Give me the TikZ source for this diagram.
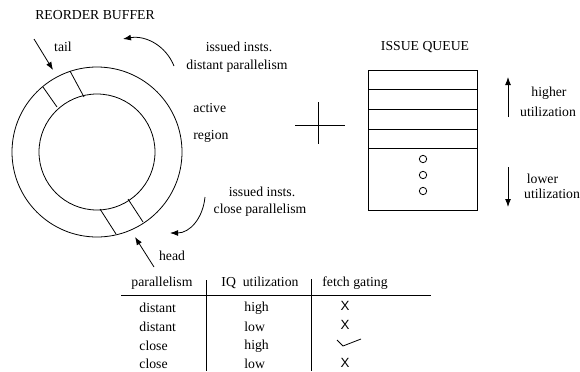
\documentclass[tikz,border=0pt]{standalone}
\usepackage{fontspec}
\setmainfont{Liberation Serif}
\newfontfamily\marksans{Liberation Sans}
\usetikzlibrary{arrows.meta}
\begin{document}
\begin{tikzpicture}[x=0.75pt,y=-0.75pt,
  line width=0.6pt,
  lbl/.style={font=\fontsize{10.3}{12}\selectfont, inner sep=0pt},
  lbll/.style={lbl, anchor=west},
  tip/.style={-{Latex[length=6pt,width=4.4pt]}},
  xmark/.style={font=\marksans\fontsize{10}{12}\selectfont, inner sep=0pt}]
\useasboundingbox (0,0) rectangle (580,371);

% ---- reorder buffer ring ----
\coordinate (c) at (97,152);
\draw (c) circle [radius=85];
\draw (c) circle [radius=58];
\node[lbl] (rob) at (95,15) {REORDER BUFFER};

% tail slot
\draw (43,87) -- (57,107);
\draw (70,71) -- (84,97);
% head slot
\draw (100,209) -- (116,234);
\draw (128,199) -- (143,222);

% tail / head pointers
\coordinate (tailfrom) at (34,39);
\coordinate (tailto) at (53,70);
\draw[tip] (tailfrom) -- (tailto);
\node[lbl] (tail) at (63,47) {tail};

\coordinate (headfrom) at (154,267);
\coordinate (headto) at (135,237);
\draw[tip] (headfrom) -- (headto);
\node[lbl] (head) at (172,256) {head};

% issue direction arrows
\coordinate (d1) at (174,66);
\coordinate (d2) at (123,39);
\draw[tip] (d1) .. controls (166,46) and (146,35) .. (d2);
\coordinate (n1) at (205,197);
\coordinate (n2) at (170,233);
\draw[tip] (n1) .. controls (203,218) and (190,233) .. (n2);

\node[lbl] (iss1) at (239,47) {issued insts.};
\node[lbl] (dist) at (237,66) {distant parallelism};
\node[lbll] (act) at (193,108) {active};
\node[lbll] (reg) at (193,136) {region};
\node[lbl] (iss2) at (262,192) {issued insts.};
\node[lbl] (clo) at (260,210) {close parallelism};

% cross
\coordinate (hl) at (295,125);
\coordinate (hr) at (345,125);
\coordinate (vt) at (318,102);
\coordinate (vb) at (318,144);
\draw (hl) -- (hr);
\draw (vt) -- (vb);

% ---- issue queue ----
\node[lbl] (iq) at (425,47) {ISSUE QUEUE};
\draw (368,70) rectangle (477,210);
\foreach \yy in {89,109,129,148} \draw (368,\yy) -- (477,\yy);
\foreach \yy in {159,175,191} \draw (423,\yy) circle [radius=3.7];

\coordinate (ua) at (508,117);
\coordinate (ub) at (508,77);
\draw[tip] (ua) -- (ub);
\coordinate (da) at (508,167);
\coordinate (db) at (508,207);
\draw[tip] (da) -- (db);
\node[lbl] (hi) at (549,93) {higher};
\node[lbl] (hu) at (548,112) {utilization};
\node[lbl] (lo) at (542.5,179) {lower};
\node[lbl] (lu) at (552,194) {utilization};

% ---- table ----
\node[lbl] (h1) at (162,283) {parallelism};
\node[lbl] (h2) at (260,283) {IQ\ \ utilization};
\node[lbl] (h3) at (355,283) {fetch gating};
\draw (121,295) -- (431,295);
\draw (206,280) -- (206,371);
\draw (311,279) -- (311,371);

\node[lbll] (r1a) at (139,308) {distant};
\node[lbll] (r2a) at (139,327) {distant};
\node[lbll] (r3a) at (139,346) {close};
\node[lbll] (r4a) at (139,364) {close};
\node[lbll] (r1b) at (244,308) {high};
\node[lbll] (r2b) at (244,327) {low};
\node[lbll] (r3b) at (244,346) {high};
\node[lbll] (r4b) at (244,364) {low};
\node[xmark] (r1c) at (345,306) {X};
\node[xmark] (r2c) at (345,325) {X};
\draw (337,340) -- (343,346) -- (361,339);
\node[xmark] (r4c) at (345,363) {X};
\end{tikzpicture}
\end{document}
